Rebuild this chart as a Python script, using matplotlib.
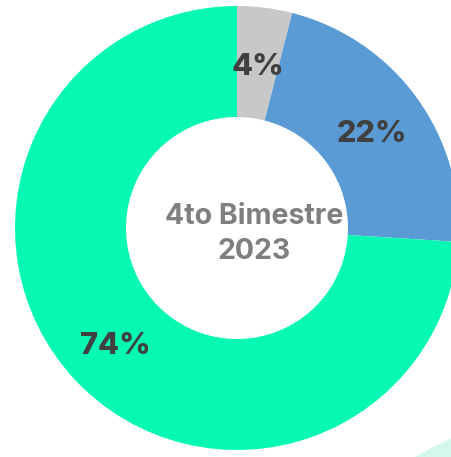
import matplotlib
matplotlib.use("Agg")
import matplotlib.pyplot as plt
from matplotlib.patches import Circle

# Share of the 4th bimester
labels = ["Otros", "Segmento B", "Segmento A"]
values = [4, 22, 74]
value_labels = ["4%", "22%", "74%"]
colors = ["#C8C8C8", "#5B9BD5", "#06F9B3"]
center_title = "4to Bimestre\n2023"

W, H = 451, 457
fig = plt.figure(figsize=(W / 100, H / 100), dpi=100)
ax = fig.add_axes([0, 0, 1, 1])
ax.set_xlim(0, W)
ax.set_ylim(0, H)
ax.set_aspect("equal")
ax.axis("off")

cx, cy, R = 237, H - 228, 222

# faint decorative shape in the corner
ax.add_patch(Circle((560, H - 700), 283, color="#D4F8EC", zorder=0, lw=0))

wedges, texts = ax.pie(
    values,
    colors=colors,
    startangle=90,
    counterclock=False,
    center=(cx, cy),
    radius=R,
    wedgeprops=dict(width=R * 0.5, linewidth=0),
    labels=value_labels,
    labeldistance=0.75,
    textprops=dict(fontsize=22, fontweight="heavy", color="#404040",
                   family="Inter", ha="center", va="center"),
)
# nudge the percentage labels slightly down
for t in texts:
    x, y = t.get_position()
    t.set_position((x, y - 4))

ax.set_xlim(0, W)
ax.set_ylim(0, H)

ax.text(cx + 17, cy - 6, center_title, ha="center", va="center",
        fontsize=20.5, fontweight="bold", color="#7F7F7F", family="Inter",
        linespacing=1.35)

fig.savefig("out.png", dpi=100)
